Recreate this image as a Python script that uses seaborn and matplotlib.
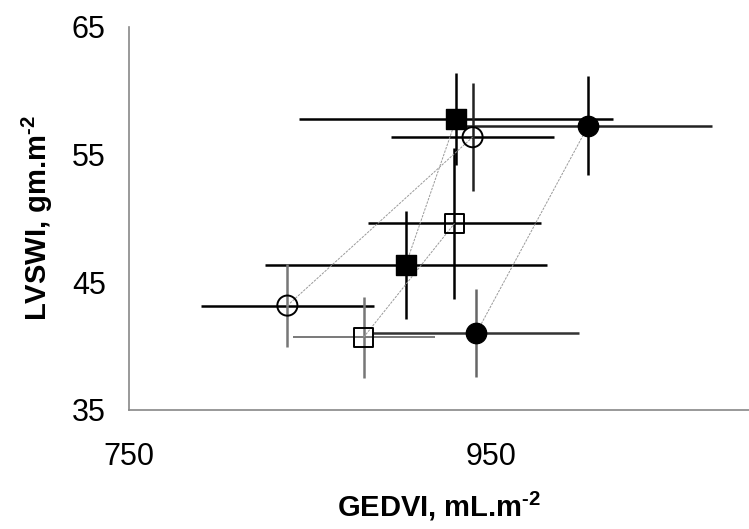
import matplotlib
matplotlib.use("Agg")
import matplotlib.pyplot as plt
import seaborn as sns
import pandas as pd

# ---- data ----
group = ["fsq", "fsq", "ocirc", "ocirc", "fcirc", "fcirc", "osq", "osq"]
phase = ["before", "after", "before", "after", "before", "after", "before", "after"]
gedvi = [903, 931, 837.5, 940, 942, 1004, 879.7, 930]
gedvi_sd = [78, 87, 48, 45, 57, 68.5, 39.3, 48]
lvswi = [46.35, 57.8, 43.17, 56.35, 41.0, 57.24, 40.69, 49.6]
lvswi_sd = [4.25, 3.6, 3.23, 4.25, 3.43, 3.86, 3.17, 5.9]

x_ticks = [750, 950]
y_ticks = [35, 45, 55, 65]
x_label = "GEDVI, mL.m$^{\\mathbf{\u2010 2}}$"
y_label = "LVSWI, gm.m$^{\\mathbf{\u2010 2}}$"

df = pd.DataFrame({"group": group, "phase": phase, "GEDVI": gedvi,
                   "GEDVI_sd": gedvi_sd, "LVSWI": lvswi, "LVSWI_sd": lvswi_sd})

sns.set_style("white")
plt.rcParams["font.family"] = ["Liberation Sans", "DejaVu Sans"]
plt.rcParams["mathtext.fontset"] = "custom"
plt.rcParams["mathtext.rm"] = "Liberation Sans"
plt.rcParams["mathtext.bf"] = "Liberation Sans:bold"
plt.rcParams["text.color"] = "black"
plt.rcParams["axes.labelcolor"] = "black"

fig = plt.figure(figsize=(7.49, 5.29), dpi=100)
ax = fig.add_axes([0.1726, 0.225, 0.8274, 0.7246])

# error bar styles (x colour, y colour, x width)
err_style = {
    ("fsq", "before"): ("black", "black", 1.8),
    ("fsq", "after"): ("black", "black", 1.8),
    ("ocirc", "before"): ("black", "#777777", 1.8),
    ("ocirc", "after"): ("black", "#222222", 1.8),
    ("fcirc", "before"): ("#333333", "#666666", 1.8),
    ("fcirc", "after"): ("#222222", "black", 1.8),
    ("osq", "before"): ("#555555", "#777777", 1.1),
    ("osq", "after"): ("black", "black", 1.8),
}
for _, r in df.iterrows():
    cx, cy, wx = err_style[(r["group"], r["phase"])]
    ax.errorbar(r["GEDVI"], r["LVSWI"], xerr=r["GEDVI_sd"], fmt="none",
                ecolor=cx, elinewidth=wx, capsize=0, zorder=2)
    ax.errorbar(r["GEDVI"], r["LVSWI"], yerr=r["LVSWI_sd"], fmt="none",
                ecolor=cy, elinewidth=1.8, capsize=0, zorder=2)

# connecting lines
for g in ["fsq", "ocirc", "fcirc", "osq"]:
    sub = df[df["group"] == g]
    sns.lineplot(data=sub, x="GEDVI", y="LVSWI", sort=False, estimator=None,
                 color="#999999", lw=0.7, linestyle=(0, (2.5, 1.2)), ax=ax, zorder=3)

marker_style = {
    "fsq": dict(marker="s", s=200, color="black", edgecolor="black", linewidth=1),
    "ocirc": dict(marker="o", s=210, facecolor="none", edgecolor="black", linewidth=1.4),
    "fcirc": dict(marker="o", s=215, color="black", edgecolor="black", linewidth=1),
    "osq": dict(marker="s", s=190, facecolor="none", edgecolor="black", linewidth=1.4),
}
for g, st in marker_style.items():
    sub = df[df["group"] == g]
    sns.scatterplot(data=sub, x="GEDVI", y="LVSWI", ax=ax, zorder=4, legend=False, **st)

ax.set_xlim(750, 1093)
ax.set_ylim(35, 65)
ax.set_xticks(x_ticks)
ax.set_yticks(y_ticks)
for side in ["top", "right"]:
    ax.spines[side].set_visible(False)
for side in ["left", "bottom"]:
    ax.spines[side].set_color("#888888")
    ax.spines[side].set_linewidth(1.2)
ax.tick_params(axis="both", direction="out", length=7, width=0.8, color="#888888",
               labelsize=22, labelcolor="black")
ax.tick_params(axis="x", pad=16)
ax.tick_params(axis="y", pad=10)

ax.set_xlabel(x_label, fontsize=21, fontweight="bold", labelpad=13)
ax.set_ylabel(y_label, fontsize=21, fontweight="bold", labelpad=12)

fig.savefig("out.png", dpi=100)
